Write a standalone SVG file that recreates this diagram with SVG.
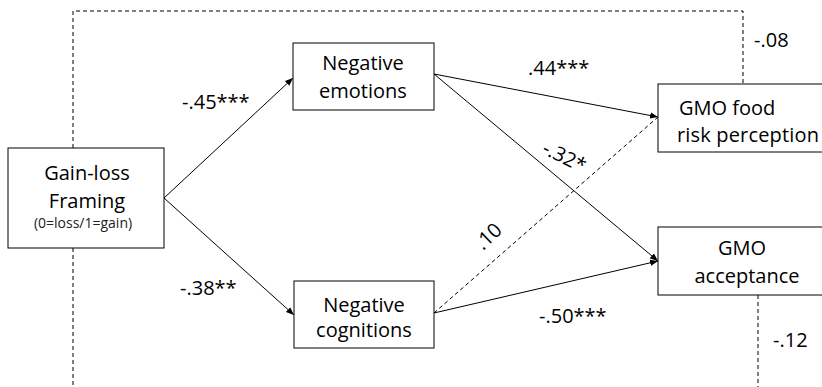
<svg xmlns="http://www.w3.org/2000/svg" width="822" height="387" viewBox="0 0 822 387">
<defs>
<marker id="ah" viewBox="0 0 10 10" refX="10" refY="5" markerWidth="8" markerHeight="8" markerUnits="userSpaceOnUse" orient="auto">
<path d="M0,1 L10,5 L0,9 Z" fill="#000"/>
</marker>
</defs>
<style>
.box{fill:#fff;stroke:#000;stroke-width:1}
.t{font-family:"Open Sans","Liberation Sans",sans-serif;font-size:20px;fill:#000}
.s{font-family:"Open Sans","Liberation Sans",sans-serif;font-size:14px;fill:#222}
.c{text-anchor:middle}
.ln{fill:none;stroke:#000;stroke-width:1}
.dash{fill:none;stroke:#000;stroke-width:1;stroke-dasharray:4 3}
</style>
<rect width="822" height="387" fill="#fff"/>
<g id="connectors">
<path class="dash" d="M73,148 V11 H743 V84"/>
<path class="dash" d="M73,248 V387"/>
<path class="dash" d="M758,295 V387"/>
<line class="ln" x1="164" y1="198" x2="293" y2="78" marker-end="url(#ah)"/>
<line class="ln" x1="164" y1="198" x2="294" y2="315" marker-end="url(#ah)"/>
<line class="ln" x1="434" y1="74" x2="658" y2="117" marker-end="url(#ah)"/>
<line class="ln" x1="434" y1="74" x2="658" y2="261" marker-end="url(#ah)"/>
<line class="dash" x1="434" y1="313" x2="658" y2="117"/>
<line class="ln" x1="434" y1="313" x2="658" y2="261" marker-end="url(#ah)"/>
<text class="t" x="182" y="109">-.45***</text>
<text class="t" x="528" y="75">.44***</text>
<text class="t" x="541" y="153" transform="rotate(26 541 153)">-.32*</text>
<text class="t" x="483" y="251" transform="rotate(-44 483 251)">.10</text>
<text class="t" x="180" y="295">-.38**</text>
<text class="t" x="539" y="323">-.50***</text>
<text class="t" x="754" y="47">-.08</text>
<text class="t" x="773" y="347">-.12</text>
</g>
<g id="gainloss">
<rect class="box" x="8" y="148" width="156" height="100"/>
<text class="t c" x="87" y="180">Gain-loss</text>
<text class="t c" x="87" y="208">Framing</text>
<text class="s c" x="83" y="228">(0=loss/1=gain)</text>
</g>
<g id="negemotions">
<rect class="box" x="293" y="43" width="141" height="67"/>
<text class="t c" x="363" y="70">Negative</text>
<text class="t c" x="363" y="98">emotions</text>
</g>
<g id="negcognitions">
<rect class="box" x="294" y="281" width="140" height="67"/>
<text class="t c" x="364" y="312">Negative</text>
<text class="t c" x="364" y="337">cognitions</text>
</g>
<g id="gmofood">
<rect class="box" x="658" y="84" width="180" height="68"/>
<text class="t" x="679" y="115">GMO food</text>
<text class="t" x="677" y="142" textLength="142" lengthAdjust="spacing">risk perception</text>
</g>
<g id="gmoaccept">
<rect class="box" x="658" y="227" width="180" height="68"/>
<text class="t c" x="742" y="255">GMO</text>
<text class="t c" x="747" y="283">acceptance</text>
</g>
</svg>
